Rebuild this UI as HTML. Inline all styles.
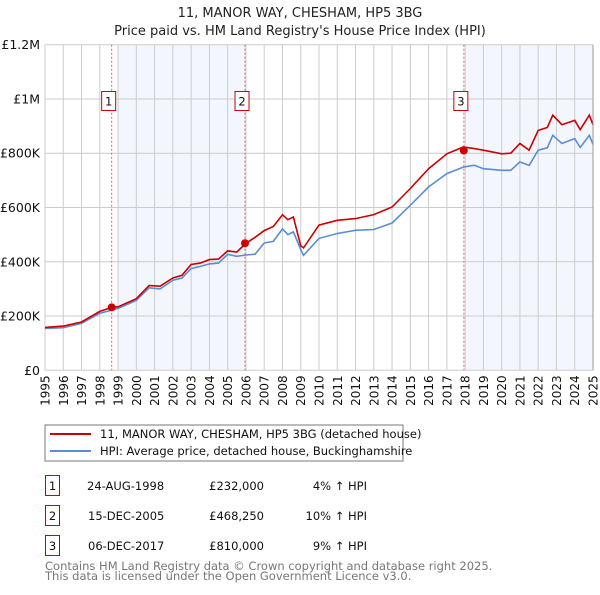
<!DOCTYPE html>
<html><head><meta charset="utf-8"><style>
body{margin:0;background:#fff;font-family:"Liberation Sans","DejaVu Sans",sans-serif;}
svg text{font-family:"DejaVu Sans","Liberation Sans",sans-serif;}
</style></head><body>
<svg id="c" width="600" height="590" xmlns="http://www.w3.org/2000/svg">
<text x="300" y="17" text-anchor="middle" font-size="13" fill="#222">11, MANOR WAY, CHESHAM, HP5 3BG</text>
<text x="300" y="35" text-anchor="middle" font-size="13" fill="#222">Price paid vs. HM Land Registry's House Price Index (HPI)</text>
<g id="plot"></g>
<rect x="45" y="425" width="358" height="36" fill="#fff" stroke="#777"/>
<line x1="50" y1="434" x2="91" y2="434" stroke="#cc0000" stroke-width="2"/>
<text x="100" y="438" font-size="11.5" fill="#111">11, MANOR WAY, CHESHAM, HP5 3BG (detached house)</text>
<line x1="50" y1="451" x2="91" y2="451" stroke="#5b8dd6" stroke-width="2"/>
<text x="100" y="455" font-size="11.5" fill="#111">HPI: Average price, detached house, Buckinghamshire</text>
<g font-size="11.5" fill="#111">
<rect x="45.5" y="475.5" width="14" height="20" fill="none" stroke="#cc0000"/><text x="52.5" y="490" text-anchor="middle">1</text>
<text x="87" y="490">24-AUG-1998</text><text x="264" y="490" text-anchor="end">£232,000</text><text x="367" y="490" text-anchor="end">4% ↑ HPI</text>
<rect x="45.5" y="505.5" width="14" height="20" fill="none" stroke="#cc0000"/><text x="52.5" y="520" text-anchor="middle">2</text>
<text x="88" y="520">15-DEC-2005</text><text x="264" y="520" text-anchor="end">£468,250</text><text x="367" y="520" text-anchor="end">10% ↑ HPI</text>
<rect x="45.5" y="535.5" width="14" height="20" fill="none" stroke="#cc0000"/><text x="52.5" y="550" text-anchor="middle">3</text>
<text x="88" y="550">06-DEC-2017</text><text x="264" y="550" text-anchor="end">£810,000</text><text x="367" y="550" text-anchor="end">9% ↑ HPI</text>
</g>
<text x="45" y="570" font-size="11.5" fill="#777">Contains HM Land Registry data © Crown copyright and database right 2025.</text>
<text x="45" y="580" font-size="11.5" fill="#777">This data is licensed under the Open Government Licence v3.0.</text>
</svg>
<script>
const years=[1995,1996,1997,1998,1998.65,1999,2000,2000.7,2001.3,2002,2002.5,2003,2003.5,2004,2004.5,2005,2005.5,2006,2006.5,2007,2007.5,2008,2008.3,2008.6,2009,2009.15,2010,2011,2012,2013,2014,2015,2016,2017,2017.9,2018.5,2019,2020,2020.5,2021,2021.5,2022,2022.5,2022.8,2023.3,2024,2024.3,2024.8,2025];
const hpiValues=[154,157,173,210,222,228,258,304,300,332,340,375,383,392,395,427,420,425,428,469,475,521,500,510,445,424,486,504,516,519,543,608,676,725,749,756,743,737,737,768,755,811,820,866,836,854,821,866,833];
const priceValues=[158,163,178,217,232,234,264,312,310,340,350,390,395,408,410,440,436,468,490,515,530,573,555,565,459,451,535,553,559,574,602,670,743,798,823,817,811,798,800,836,811,884,895,940,905,921,887,940,905];
const saleYears=[1998.65,2005.95,2017.93];
const saleValues=[232,468.25,810];
const saleLabels=["1","2","3"];
const shadeBands=[[1999,2006],[2018,2025]];
const yTicks=[0,200,400,600,800,1000,1200];
const yTickLabels=["£0","£200K","£400K","£600K","£800K","£1M","£1.2M"];
const NS="http://www.w3.org/2000/svg";
const L=45,R=593,T=44.7,B=370.3;
const X=y=>L+(y-1995)/30*(R-L);
const Y=v=>B-v/1200*(B-T);
const g=document.getElementById('plot');
function el(t,a){const e=document.createElementNS(NS,t);for(const k in a)e.setAttribute(k,a[k]);g.appendChild(e);return e;}
for(const b of shadeBands){const r=el('rect',{x:X(b[0]),y:T,width:X(b[1])-X(b[0]),height:B-T,fill:'#f3f6fd'});

}
for(let yr=1995;yr<=2025;yr++){const l=el('line',{x1:X(yr),x2:X(yr),y1:T,y2:B,stroke:'#cccccc'});


const t=el('text',{x:0,y:0,'font-size':12,fill:'#111','text-anchor':'end',transform:`translate(${X(yr)+4.5},${B+5}) rotate(-90)`});t.textContent=yr;

}
yTicks.forEach((v,i)=>{const l=el('line',{x1:L,x2:R,y1:Y(v),y2:Y(v),stroke:'#cccccc'});


const t=el('text',{x:L-5,y:Y(v)+4.5,'font-size':12.5,fill:'#111','text-anchor':'end'});t.textContent=yTickLabels[i];

});
saleYears.forEach((yr,i)=>{const l=el('line',{x1:X(yr),x2:X(yr),y1:T,y2:B,stroke:'#e06666','stroke-dasharray':'2,2'});


const r=el('rect',{x:X(yr)-10,y:91.5,width:14,height:19,fill:'#fff',stroke:'#cc0000'});


const t=el('text',{x:X(yr)-3,y:105.5,'font-size':11.5,fill:'#111','text-anchor':'middle'});t.textContent=saleLabels[i];

});
const pts=a=>years.map((y,i)=>X(y).toFixed(1)+','+Y(a[i]).toFixed(1)).join(' ');
const hp=el('polyline',{points:pts(hpiValues),fill:'none',stroke:'#5b8dd6','stroke-width':1.6});


const pp=el('polyline',{points:pts(priceValues),fill:'none',stroke:'#cc0000','stroke-width':1.6});


saleYears.forEach((yr,i)=>{const c=el('circle',{cx:X(yr),cy:Y(saleValues[i]),r:4,fill:'#cc0000'});

});
const ax=el('line',{x1:R,x2:R,y1:T,y2:B,stroke:'#999'});


</script>
</body></html>
